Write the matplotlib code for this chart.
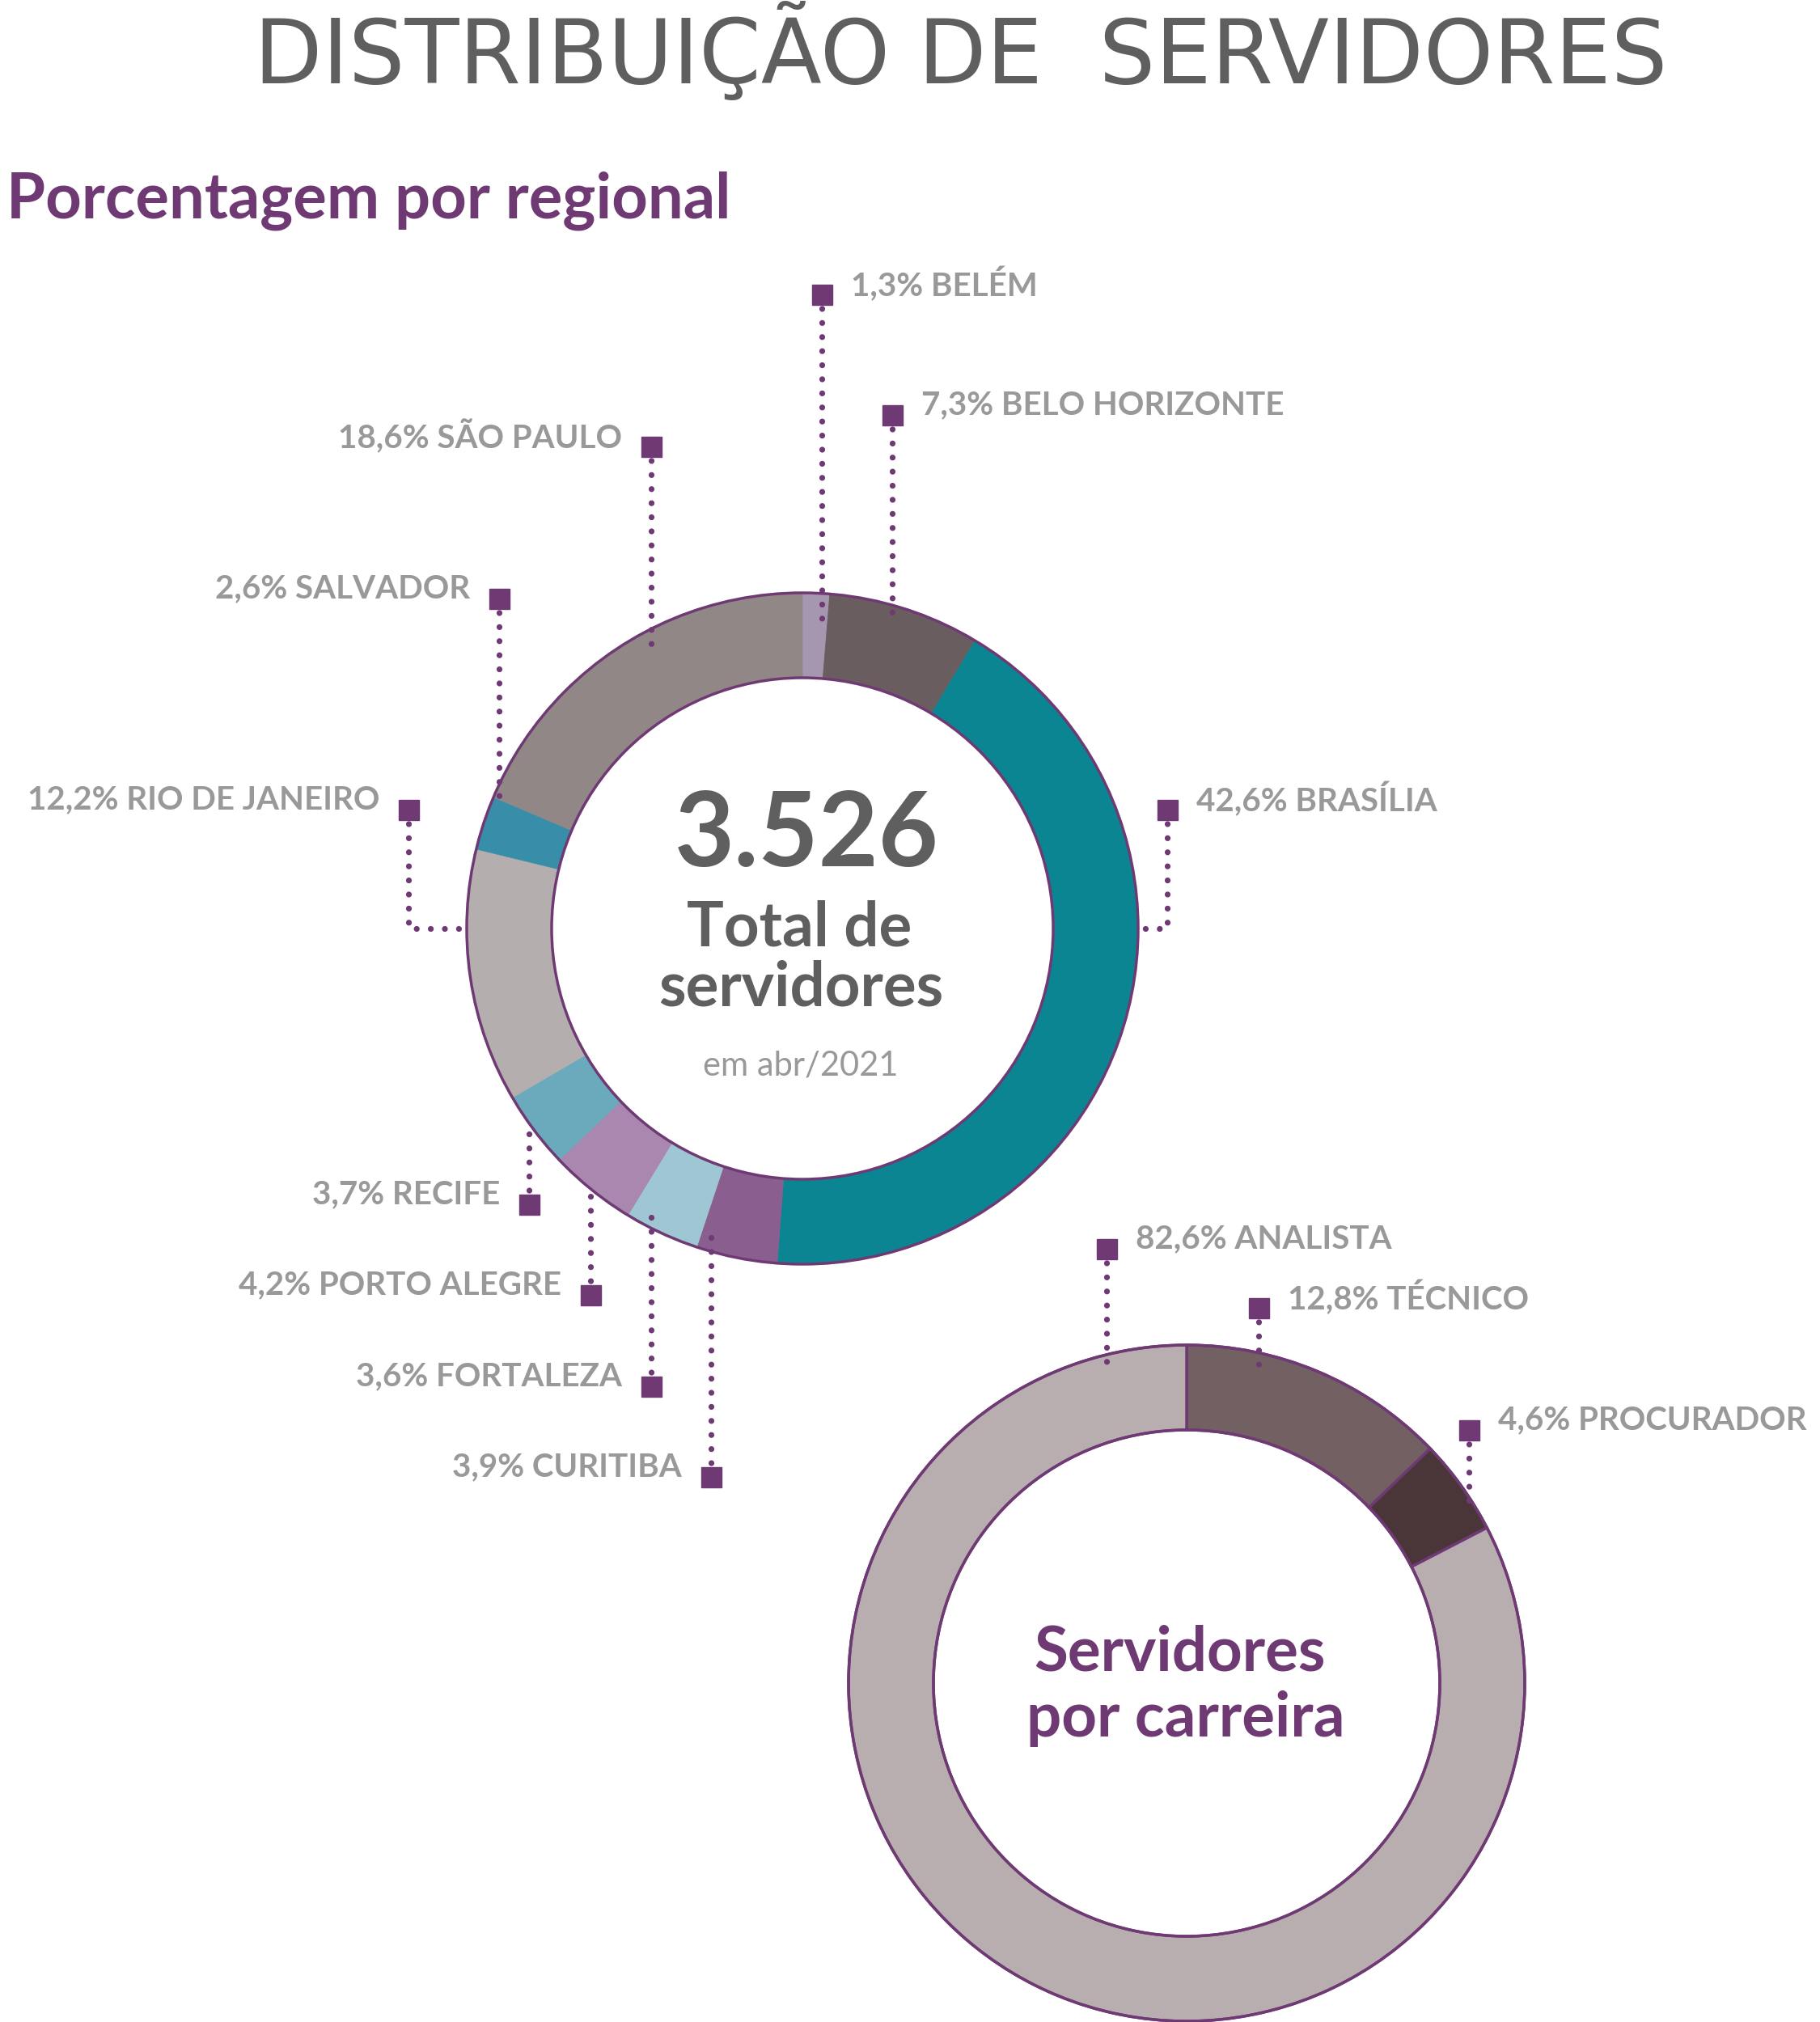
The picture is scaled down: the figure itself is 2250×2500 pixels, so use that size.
import numpy as np
import matplotlib.pyplot as plt
from matplotlib.patches import Circle

# dados
regionais = ["BELÉM", "BELO HORIZONTE", "BRASÍLIA", "CURITIBA", "FORTALEZA",
             "PORTO ALEGRE", "RECIFE", "RIO DE JANEIRO", "SALVADOR", "SÃO PAULO"]
pct_regional = [1.3, 7.3, 42.6, 3.9, 3.6, 4.2, 3.7, 12.2, 2.6, 18.6]
cores_regional = ["#a597b0", "#6a5d60", "#0a8591", "#8a5e8f", "#9fc7d3",
                  "#a987ae", "#6aaabc", "#b4aeae", "#388ea8", "#918787"]

carreiras = ["TÉCNICO", "PROCURADOR", "ANALISTA"]
pct_carreira = [12.8, 4.6, 82.6]
cores_carreira = ["#736062", "#4a3639", "#b8aeaf"]

total = "3.526"
data_ref = "em abr/2021"

ROXO = "#6f3a74"
CINZA = "#999999"
ESCURO = "#5f5f5f"
W, H = 2250, 2500

# layout dos rotulos: (x quadrado, y quadrado, lado do texto, pontos extras da linha)
layout_regional = {
    "BELÉM": (1016, 364, "r", [(1016, 769)]),
    "BELO HORIZONTE": (1103, 513, "r", [(1103, 765)]),
    "BRASÍLIA": (1443, 1001, "r", [(1443, 1148), (1406, 1148)]),
    "CURITIBA": (879, 1826, "l", [(879, 1523)]),
    "FORTALEZA": (805, 1714, "l", [(805, 1496)]),
    "PORTO ALEGRE": (730, 1601, "l", [(730, 1467)]),
    "RECIFE": (654, 1489, "l", [(654, 1387)]),
    "RIO DE JANEIRO": (505, 1001, "l", [(505, 1148), (580, 1148)]),
    "SALVADOR": (617, 740, "l", [(617, 997)]),
    "SÃO PAULO": (805, 552, "l", [(805, 805)]),
}
layout_carreira = {
    "ANALISTA": (1368, 1544, "r", [(1368, 1693)]),
    "TÉCNICO": (1556, 1617, "r", [(1556, 1687)]),
    "PROCURADOR": (1816, 1768, "r", [(1816, 1858)]),
}


def fy(y):
    # coordenada da imagem (y para baixo) -> dados (y para cima)
    return H - y


def fmt(v):
    return f"{v:.1f}".replace(".", ",") + "%"


def donut(ax, valores, cores, cx, cy, r_out, r_in, borda):
    wp = dict(width=r_out - r_in, linewidth=2.5 if borda else 0.6)
    wedges, _ = ax.pie(valores, colors=cores, startangle=90, counterclock=False,
                       center=(cx, fy(cy)), radius=r_out, wedgeprops=wp,
                       frame=True)
    for w, c in zip(wedges, cores):
        w.set_edgecolor(ROXO if borda else c)
    for r in (r_out, r_in):
        ax.add_patch(Circle((cx, fy(cy)), r, fill=False, edgecolor=ROXO,
                            linewidth=2.5, zorder=3))


def rotulos(ax, nomes, valores, layout):
    for nome, v in zip(nomes, valores):
        xs, ys, lado, pts = layout[nome]
        xx = [xs] + [p[0] for p in pts]
        yy = [fy(ys)] + [fy(p[1]) for p in pts]
        ax.plot(xx, yy, color=ROXO, linewidth=5.2, linestyle=(0, (0.01, 2.4)),
                dash_capstyle="round", zorder=4)
        ax.plot(xs, fy(ys), marker="s", markersize=18, color=ROXO, zorder=5)
        txt = f"{fmt(v)} {nome}"
        if lado == "r":
            ax.text(xs + 36, fy(ys - 12), txt, ha="left", va="center",
                    fontsize=29, color=CINZA, fontweight="bold", family="Lato")
        else:
            ax.text(xs - 36, fy(ys - 12), txt, ha="right", va="center",
                    fontsize=29, color=CINZA, fontweight="bold", family="Lato")


fig = plt.figure(figsize=(22.5, 25), dpi=100)
ax = fig.add_axes([0, 0, 1, 1])

donut(ax, pct_regional, cores_regional, 992, 1148, 415, 310, False)
donut(ax, pct_carreira, cores_carreira, 1467, 2081, 418, 313, True)

rotulos(ax, regionais, pct_regional, layout_regional)
rotulos(ax, carreiras, pct_carreira, layout_carreira)

# textos centrais
ax.text(997, fy(1035), total, ha="center", va="center", fontsize=92,
        color=ESCURO, fontweight="bold", family="Lato")
ax.text(988, fy(1147), "Total de", ha="center", va="center", fontsize=55,
        color=ESCURO, fontweight="bold", family="Lato")
ax.text(990, fy(1222), "servidores", ha="center", va="center", fontsize=55,
        color=ESCURO, fontweight="bold", family="Lato")
ax.text(990, fy(1318), data_ref, ha="center", va="center", fontsize=30,
        color=CINZA, family="Lato")
ax.text(1459, fy(2043), "Servidores", ha="center", va="center", fontsize=55,
        color=ROXO, fontweight="bold", family="Lato")
ax.text(1466, fy(2125), "por carreira", ha="center", va="center", fontsize=55,
        color=ROXO, fontweight="bold", family="Lato")

# titulos
ax.text(1188, fy(64), "DISTRIBUIÇÃO DE  SERVIDORES", ha="center", va="center",
        fontsize=79, color=ESCURO, family="DejaVu Sans")
ax.text(8, fy(248), "Porcentagem por regional", ha="left", va="center",
        fontsize=56, color=ROXO, fontweight="bold", family="Lato")

ax.set_xlim(0, W)
ax.set_ylim(0, H)
ax.set_aspect("equal")
ax.axis("off")

fig.savefig("out.png", dpi=100, facecolor="white")
